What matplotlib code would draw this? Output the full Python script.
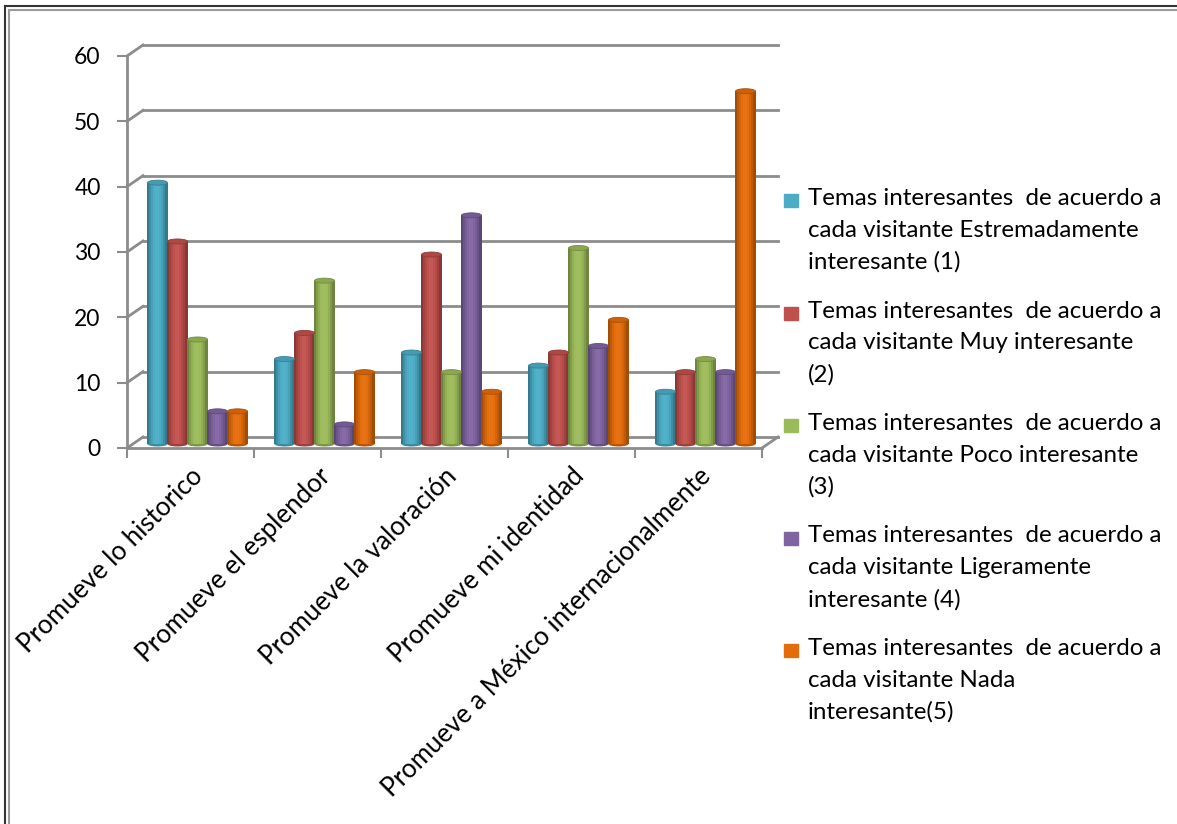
import numpy as np
import matplotlib.pyplot as plt
import matplotlib.colors as mcolors
from matplotlib.patches import Ellipse

plt.rcParams['font.family'] = ['Lato', 'DejaVu Sans']

# data
categorias = ['Promueve lo historico', 'Promueve el esplendor', 'Promueve la valoración',
              'Promueve mi identidad', 'Promueve a México internacionalmente']
extremadamente = [40, 13, 14, 12, 8]
muy = [31, 17, 29, 14, 11]
poco = [16, 25, 11, 30, 13]
ligeramente = [5, 3, 35, 15, 11]
nada = [5, 11, 8, 19, 54]
series_labels = ['Temas interesantes  de acuerdo a\ncada visitante Estremadamente\ninteresante (1)',
                 'Temas interesantes  de acuerdo a\ncada visitante Muy interesante\n(2)',
                 'Temas interesantes  de acuerdo a\ncada visitante Poco interesante\n(3)',
                 'Temas interesantes  de acuerdo a\ncada visitante Ligeramente\ninteresante (4)',
                 'Temas interesantes  de acuerdo a\ncada visitante Nada\ninteresante(5)']
colores = ['#4BACC6', '#C0504D', '#9BBB59', '#8064A2', '#E46C0A']
yticks = [0, 10, 20, 30, 40, 50, 60]

series = [extremadamente, muy, poco, ligeramente, nada]

W, H = 1177, 824
fig = plt.figure(figsize=(W / 100, H / 100), dpi=100)
ax = fig.add_axes([127 / W, 1 - 448 / H, 635 / W, 392 / H])
ax.set_xlim(-0.5, 4.5)
ax.set_ylim(0, 60)
for s in ax.spines.values():
    s.set_visible(False)

ppx = 635 / 5.0        # px per category
ppy = 392 / 60.0       # px per unit
dx_back, dy_back = 16 / ppx, 11 / ppy   # back wall depth offset
dx_bar, dy_bar = 7 / ppx, 4 / ppy       # bars sit mid-depth

grid_c = '#8C8C8C'
# back wall gridlines and connectors to the front axis
for v in yticks:
    ax.plot([-0.5 + dx_back, 4.5 + dx_back], [v + dy_back, v + dy_back], color=grid_c, lw=2, clip_on=False, zorder=1)
    ax.plot([-0.5, -0.5 + dx_back], [v, v + dy_back], color=grid_c, lw=2, clip_on=False, zorder=1)
# floor front edge, right side and front vertical axis
ax.plot([-0.5, 4.5], [0, 0], color=grid_c, lw=2, clip_on=False, zorder=1)
ax.plot([4.5, 4.5 + dx_back], [0, dy_back], color=grid_c, lw=2, clip_on=False, zorder=1)
ax.plot([-0.5, -0.5], [0, 60], color=grid_c, lw=2, clip_on=False, zorder=1)

# cylinders
bw = 20 / ppx
n = len(series)
x = np.arange(len(categorias))
nstrip = 10
prof = np.cos(np.linspace(-1.25, 1.25, nstrip))
for i, (vals, c) in enumerate(zip(series, colores)):
    base = np.array(mcolors.to_rgb(c))
    xc = x + dx_bar + (i - (n - 1) / 2) * bw
    for k in range(nstrip):
        f = 0.55 + 0.5 * prof[k]
        col = np.clip(base * f if f < 1 else base + (1 - base) * (f - 1), 0, 1)
        ax.bar(xc - bw / 2 + (k + 0.5) * bw / nstrip, vals, width=bw / nstrip * 1.05,
               bottom=dy_bar, color=col, lw=0, zorder=3, clip_on=False)
    for xi, v in zip(xc, vals):
        ax.add_patch(Ellipse((xi, dy_bar), bw, 5 / ppy, color=base * 0.8, lw=0, zorder=2.9, clip_on=False))
        ax.add_patch(Ellipse((xi, v + dy_bar), bw, 5 / ppy, facecolor=base * 0.9, edgecolor=base * 0.75,
                             lw=0.6, zorder=4, clip_on=False))

# y axis ticks on front plane
ax.set_yticks(yticks)
ax.tick_params(axis='y', length=7, width=1.5, color=grid_c, labelsize=16.5, pad=12)
ax.set_xticks(x)
ax.set_xticklabels(categorias, rotation=45, ha='right', rotation_mode='anchor', fontsize=18.6)
ax.tick_params(axis='x', length=0, pad=11)
ax.set_xticks(np.arange(-0.5, 5, 1), minor=True)
ax.tick_params(axis='x', which='minor', length=7, width=1.5, color=grid_c)

# legend, drawn by hand so the square sits on the first line
for i, (lab, c) in enumerate(zip(series_labels, colores)):
    ytop = 188 + i * 112.5
    fig.patches.append(plt.Rectangle((784 / W, 1 - (ytop + 19) / H), 14 / W, 13 / H,
                                     color=c, transform=fig.transFigure, figure=fig))
    fig.text(808 / W, 1 - ytop / H, lab, fontsize=17.4, va='top', ha='left', linespacing=1.62)

# outer frame (double line on left and top)
fig.add_artist(plt.Line2D([4.5 / W, 4.5 / W], [0, 1 - 6 / H], color='#333333', lw=1.5))
fig.add_artist(plt.Line2D([8.5 / W, 8.5 / W], [0, 1 - 10 / H], color='#9A9A9A', lw=1.5))
fig.add_artist(plt.Line2D([4.5 / W, 1], [1 - 6 / H, 1 - 6 / H], color='#333333', lw=1.5))
fig.add_artist(plt.Line2D([8.5 / W, 1], [1 - 9.5 / H, 1 - 9.5 / H], color='#9A9A9A', lw=1.5))

fig.savefig('out.png', dpi=100)
